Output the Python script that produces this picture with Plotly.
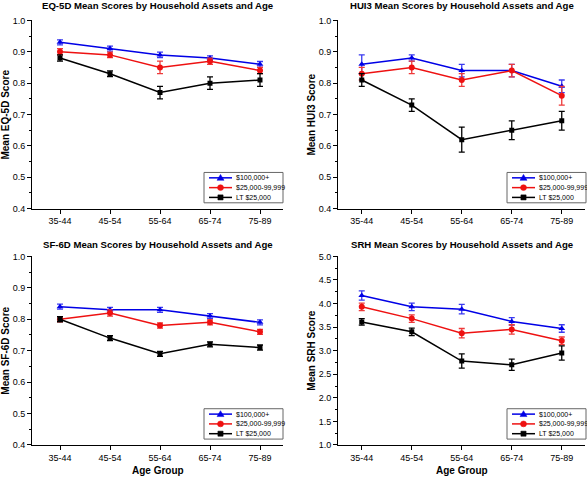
import plotly.graph_objects as go

W, H = 587, 481

ages = ["35-44", "45-54", "55-64", "65-74", "75-89"]
groups = ["$100,000+", "$25,000-99,999", "LT $25,000"]

# EQ-5D
eq5d_hi = [0.93, 0.91, 0.89, 0.88, 0.86]
eq5d_hi_err = [0.008, 0.008, 0.009, 0.007, 0.009]
eq5d_mid = [0.90, 0.89, 0.85, 0.87, 0.84]
eq5d_mid_err = [0.01, 0.009, 0.02, 0.01, 0.01]
eq5d_lo = [0.88, 0.83, 0.77, 0.80, 0.81]
eq5d_lo_err = [0.01, 0.009, 0.02, 0.02, 0.02]

# HUI3
hui3_hi = [0.86, 0.88, 0.84, 0.84, 0.79]
hui3_hi_err = [0.03, 0.01, 0.02, 0.02, 0.02]
hui3_mid = [0.83, 0.85, 0.81, 0.84, 0.76]
hui3_mid_err = [0.02, 0.02, 0.02, 0.02, 0.03]
hui3_lo = [0.81, 0.73, 0.62, 0.65, 0.68]
hui3_lo_err = [0.02, 0.02, 0.04, 0.03, 0.03]

# SF-6D
sf6d_hi = [0.84, 0.83, 0.83, 0.81, 0.79]
sf6d_hi_err = [0.008, 0.008, 0.008, 0.008, 0.008]
sf6d_mid = [0.80, 0.82, 0.78, 0.79, 0.76]
sf6d_mid_err = [0.008, 0.01, 0.008, 0.008, 0.008]
sf6d_lo = [0.80, 0.74, 0.69, 0.72, 0.71]
sf6d_lo_err = [0.008, 0.008, 0.008, 0.008, 0.008]

# SRH
srh_hi = [4.17, 3.93, 3.88, 3.62, 3.47]
srh_hi_err = [0.10, 0.08, 0.10, 0.08, 0.08]
srh_mid = [3.93, 3.68, 3.37, 3.45, 3.21]
srh_mid_err = [0.08, 0.08, 0.10, 0.10, 0.08]
srh_lo = [3.61, 3.40, 2.78, 2.70, 2.95]
srh_lo_err = [0.07, 0.08, 0.15, 0.12, 0.15]

panel_titles = [
    "EQ-5D Mean Scores by Household Assets and Age",
    "HUI3 Mean Scores by Household Assets and Age",
    "SF-6D Mean Scores by Household Assets and Age",
    "SRH Mean Scores by Household Assets and Age",
]
y_titles = ["Mean EQ-5D Score", "Mean HUI3 Score", "Mean SF-6D Score", "Mean SRH Score"]
x_title = "Age Group"

panels = [
    ([eq5d_hi, eq5d_mid, eq5d_lo], [eq5d_hi_err, eq5d_mid_err, eq5d_lo_err]),
    ([hui3_hi, hui3_mid, hui3_lo], [hui3_hi_err, hui3_mid_err, hui3_lo_err]),
    ([sf6d_hi, sf6d_mid, sf6d_lo], [sf6d_hi_err, sf6d_mid_err, sf6d_lo_err]),
    ([srh_hi, srh_mid, srh_lo], [srh_hi_err, srh_mid_err, srh_lo_err]),
]

colors = ["#0000e6", "#ee1111", "#000000"]
err_colors = ["#3a3af0", "#ee3a3a", "#000000"]
symbols = ["triangle-up", "circle", "square"]
msizes = [6, 6, 5]


def px(x):
    return x / W


def py(y):
    return 1 - y / H


# pixel boxes: (left, right, top, bottom)
boxes = [
    (32, 283, 15.7, 208),
    (338, 585, 15.7, 208),
    (32, 283, 256.7, 449.3),
    (338, 585, 256.7, 449.3),
]
title_offsets = [15, 15, 12, 12]
xranges = [[-0.56, 4.46], [-0.475, 4.465], [-0.56, 4.46], [-0.475, 4.465]]
yranges = [[0.4, 1.0], [0.4, 1.0], [0.4, 1.0], [1.0, 5.0]]
ydticks = [0.1, 0.1, 0.1, 0.5]

fig = go.Figure()
font_family = "Liberation Sans, Arial, sans-serif"
shapes = []

for p, (vals, errs) in enumerate(panels):
    ax = "" if p == 0 else str(p + 1)
    for g in range(3):
        fig.add_trace(go.Scatter(
            x=ages, y=vals[g], name=groups[g],
            mode="lines+markers", showlegend=False,
            line=dict(color=colors[g], width=1.5),
            marker=dict(symbol=symbols[g], size=msizes[g], color=colors[g]),
            error_y=dict(type="data", array=errs[g], visible=True,
                         color=err_colors[g], thickness=1.3, width=3),
            xaxis="x" + ax, yaxis="y" + ax,
        ))
    l, r, t, b = boxes[p]
    axis_common = dict(showline=True, linecolor="black", linewidth=1,
                       showgrid=False, zeroline=False, ticks="outside",
                       tickcolor="black", ticklen=4, tickwidth=1,
                       tickfont=dict(size=9, color="black", family=font_family))
    fig.update_layout(**{
        "xaxis" + ax: dict(domain=[px(l), px(r)], anchor="y" + ax,
                           type="category", range=xranges[p], **axis_common),
        "yaxis" + ax: dict(domain=[py(b), py(t)], anchor="x" + ax,
                           range=yranges[p], dtick=ydticks[p],
                           tickformat=".1f",
                           minor=dict(ticks="outside", dtick=ydticks[p] / 2,
                                      ticklen=2, tickcolor="black"),
                           **axis_common),
    })
    # panel title
    fig.add_annotation(text="<b>" + panel_titles[p] + "</b>", xref="paper", yref="paper",
                       x=px((l + r) / 2), y=py(t - title_offsets[p]),
                       xanchor="center", yanchor="middle",
                       showarrow=False, font=dict(size=9.6, color="black", family=font_family))
    # y title
    fig.add_annotation(text="<b>" + y_titles[p] + "</b>", xref="paper", yref="paper",
                       x=px(l - 26), y=py((t + b) / 2), xanchor="center", yanchor="middle",
                       textangle=-90, showarrow=False,
                       font=dict(size=10, color="black", family=font_family))
    if p >= 2:
        fig.add_annotation(text="<b>" + x_title + "</b>", xref="paper", yref="paper",
                           x=px((l + r) / 2), y=py(b + 26), xanchor="center", yanchor="middle",
                           showarrow=False,
                           font=dict(size=10, color="black", family=font_family))

    # legend key box (drawn in paper space)
    bx1 = r + (1 if p % 2 else 0)
    bx0 = bx1 - 79
    by1 = b - 6
    by0 = by1 - 31
    shapes.append(dict(type="rect", xref="paper", yref="paper",
                       x0=px(bx0), x1=px(bx1), y0=py(by1), y1=py(by0),
                       line=dict(color="#666", width=1), fillcolor="white", layer="above"))
    for g in range(3):
        cy = by0 + 5.5 + 10 * g
        lx0, lx1 = bx0 + 5, bx0 + 28
        mx = (lx0 + lx1) / 2
        shapes.append(dict(type="line", xref="paper", yref="paper",
                           x0=px(lx0), x1=px(lx1), y0=py(cy), y1=py(cy),
                           line=dict(color=colors[g], width=1.5), layer="above"))
        s = 3
        if g == 0:
            path = "M {},{} L {},{} L {},{} Z".format(
                px(mx - s - 0.5), py(cy + s - 0.5), px(mx + s + 0.5), py(cy + s - 0.5),
                px(mx), py(cy - s - 0.5))
            shapes.append(dict(type="path", xref="paper", yref="paper", path=path,
                               fillcolor=colors[g], line=dict(color=colors[g], width=0.5),
                               layer="above"))
        elif g == 1:
            shapes.append(dict(type="circle", xref="paper", yref="paper",
                               x0=px(mx - s), x1=px(mx + s), y0=py(cy + s), y1=py(cy - s),
                               fillcolor=colors[g], line=dict(color=colors[g], width=0.5),
                               layer="above"))
        else:
            s2 = 2.6
            shapes.append(dict(type="rect", xref="paper", yref="paper",
                               x0=px(mx - s2), x1=px(mx + s2), y0=py(cy + s2), y1=py(cy - s2),
                               fillcolor=colors[g], line=dict(color=colors[g], width=0.5),
                               layer="above"))
        fig.add_annotation(text=groups[g], xref="paper", yref="paper",
                           x=px(lx1 + 3), y=py(cy), xanchor="left", yanchor="middle",
                           showarrow=False, borderpad=0,
                           font=dict(size=7, color="black", family=font_family))

fig.update_layout(width=W, height=H, margin=dict(l=0, r=0, t=0, b=0),
                  paper_bgcolor="white", plot_bgcolor="white", shapes=shapes,
                  font=dict(family=font_family, color="black"))

fig.write_html("out.html", config={"displayModeBar": False},
               post_script="document.body.style.margin='0';")
